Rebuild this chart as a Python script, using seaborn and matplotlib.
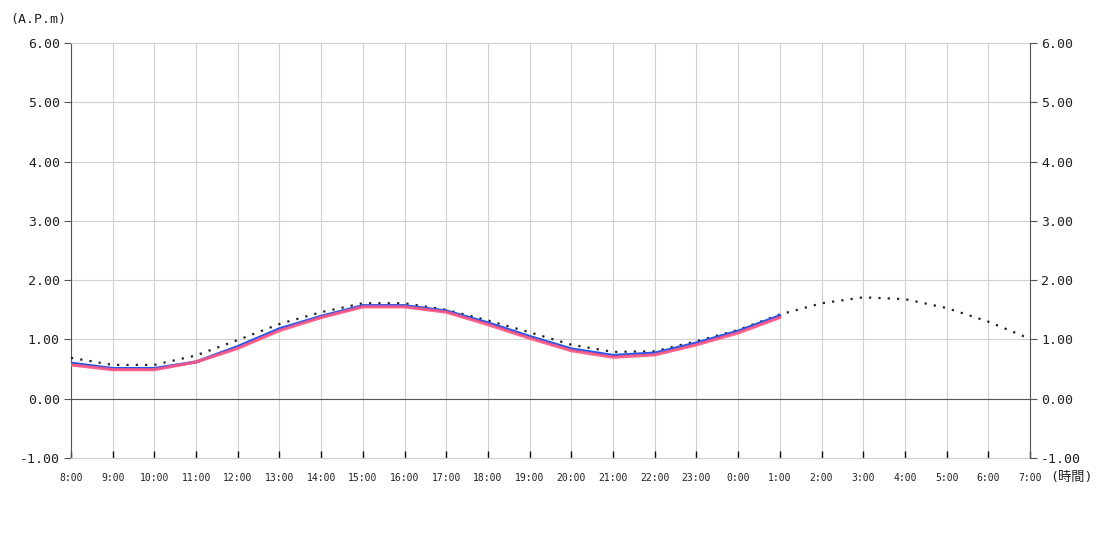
import matplotlib
matplotlib.use("Agg")
import matplotlib.pyplot as plt
import seaborn as sns
import pandas as pd

hours = ["8:00", "9:00", "10:00", "11:00", "12:00", "13:00", "14:00", "15:00",
         "16:00", "17:00", "18:00", "19:00", "20:00", "21:00", "22:00", "23:00",
         "0:00", "1:00", "2:00", "3:00", "4:00", "5:00", "6:00", "7:00"]

forecast = [0.69, 0.57, 0.57, 0.73, 0.99, 1.26, 1.46, 1.61, 1.61, 1.50, 1.32, 1.12,
            0.91, 0.79, 0.80, 0.97, 1.16, 1.42, 1.61, 1.71, 1.68, 1.53, 1.30, 1.01]
blue_vals = [0.60, 0.51, 0.51, 0.62, 0.88, 1.18, 1.39, 1.57, 1.57, 1.48, 1.28, 1.05,
             0.84, 0.73, 0.77, 0.94, 1.14, 1.40]
red_vals = [0.57, 0.49, 0.49, 0.62, 0.85, 1.15, 1.37, 1.55, 1.55, 1.46, 1.25, 1.02,
            0.81, 0.70, 0.74, 0.91, 1.11, 1.37]

y_ticks = [-1, 0, 1, 2, 3, 4, 5, 6]

sns.set_theme(style="white")
plt.rcParams["font.family"] = ["DejaVu Sans Mono", "Noto Sans CJK JP"]

fig = plt.figure(figsize=(11, 5.5), dpi=100)
ax = fig.add_axes([71 / 1100, 1 - 458 / 550, (1030 - 71) / 1100, (458 - 43) / 550])

df_f = pd.DataFrame({"x": range(len(forecast)), "y": forecast})
df_b = pd.DataFrame({"x": range(len(blue_vals)), "y": blue_vals})
df_r = pd.DataFrame({"x": range(len(red_vals)), "y": red_vals})

sns.lineplot(data=df_f, x="x", y="y", ax=ax, color="#222222", lw=1.6,
             linestyle=(0, (1, 3.2)), zorder=3)
sns.lineplot(data=df_b, x="x", y="y", ax=ax, color="#2255ee", lw=2.2, zorder=4)
sns.lineplot(data=df_r, x="x", y="y", ax=ax, color="#ff5580", lw=2.3, alpha=0.9, zorder=5)

ax.set_xlim(0, len(hours) - 1)
ax.set_ylim(-1, 6)
ax.set_xticks(range(len(hours)))
ax.set_xticklabels(hours, fontsize=7)
ax.set_yticks(y_ticks)
ax.set_yticklabels([f"{v:.2f}" for v in y_ticks], fontsize=9.5)
ax.set_xlabel("")
ax.set_ylabel("")

ax.grid(True, color="#d0d0d0", lw=0.8)
ax.axhline(0, color="#555555", lw=0.8, zorder=2)

for s in ["top", "bottom"]:
    ax.spines[s].set_visible(True)
    ax.spines[s].set_color("#d0d0d0")
    ax.spines[s].set_linewidth(0.8)
ax.spines["left"].set_color("#555555")
ax.spines["left"].set_linewidth(0.8)
ax.spines["right"].set_visible(False)

ax.tick_params(axis="y", direction="out", length=5, width=0.8, color="#555555",
               left=True, pad=3, labelcolor="#222222")
ax.tick_params(axis="x", direction="in", length=5, width=1, color="#111111",
               bottom=True, pad=11, labelcolor="#222222")

ax2 = ax.twinx()
ax2.set_ylim(-1, 6)
ax2.set_yticks(y_ticks)
ax2.set_yticklabels([f"{v:.2f}" for v in y_ticks], fontsize=9.5)
for s in ["top", "bottom", "left"]:
    ax2.spines[s].set_visible(False)
ax2.spines["right"].set_color("#555555")
ax2.spines["right"].set_linewidth(0.8)
ax2.tick_params(axis="y", direction="out", length=5, width=0.8, color="#555555",
                right=True, pad=3, labelcolor="#222222")
ax2.grid(False)

fig.text(10 / 1100, 1 - 20 / 550, "(A.P.m)", fontsize=9.5, ha="left", va="center",
         color="#222222")
fig.text(1050 / 1100, 1 - 477 / 550, "(時間)", fontsize=9.5, ha="left", va="center",
         color="#222222")

fig.savefig("out.png", dpi=100)
